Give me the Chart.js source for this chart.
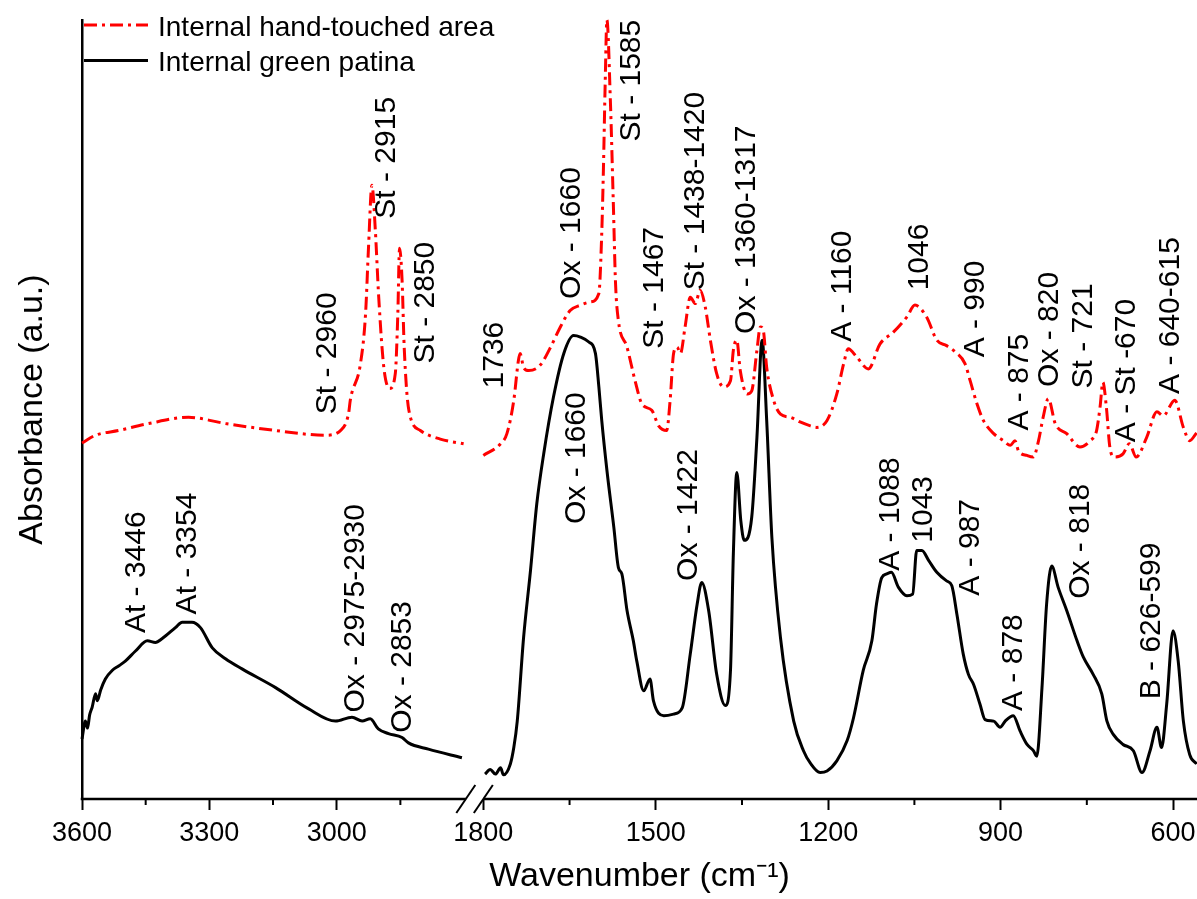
<!DOCTYPE html>
<html>
<head>
<meta charset="utf-8">
<title>FTIR spectra</title>
<script src="https://cdn.jsdelivr.net/npm/chart.js@4/dist/chart.umd.min.js"></script>
<style>
html, body { margin: 0; padding: 0; background: #fff; }
</style>
</head>
<body>
<canvas id="ftirChart" width="1197" height="899"></canvas>
<script>
// spectra: wavenumber (cm-1) and absorbance (a.u., 0-100)
const redLeftWn = [3600, 3568, 3514, 3443, 3349, 3262, 3144, 3027, 2991, 2972, 2968, 2944, 2932, 2925, 2917, 2909, 2901, 2889, 2875, 2862, 2856, 2852, 2846, 2841, 2830, 2803, 2756, 2701];
const redLeftAbs = [45.7, 46.7, 47.3, 48.2, 49.0, 48.2, 47.3, 46.7, 47.3, 49.5, 51.2, 55.9, 62.3, 70.9, 78.8, 73.0, 64.4, 55.4, 52.7, 54.6, 62.3, 70.7, 66.6, 58.0, 49.9, 47.3, 46.2, 45.6];

const redRightWn = [1800, 1770, 1759, 1747, 1739, 1736, 1730, 1721, 1701, 1683, 1666, 1649, 1631, 1614, 1599, 1594, 1591, 1588, 1585, 1579,
  1574, 1570, 1565, 1550, 1536, 1524, 1507, 1495, 1481, 1475, 1469, 1463, 1457, 1449, 1440, 1431, 1423, 1414, 1405, 1394,
  1382, 1370, 1365, 1359, 1353, 1341, 1333, 1324, 1318, 1313, 1307, 1295, 1283, 1266, 1249, 1231, 1220, 1202, 1185, 1173,
  1165, 1150, 1130, 1110, 1087, 1063, 1049, 1029, 1011, 994, 979, 962, 953, 941, 930, 912, 895, 883, 875, 869,
  854, 843, 834, 826, 817, 805, 785, 762, 744, 733, 727, 722, 716, 710, 702, 687, 676, 664, 646, 628,
  617, 597, 582, 571, 559];
const redRightAbs = [44.1, 45.6, 46.9, 51.2, 56.3, 57.2, 55.4, 55.0, 55.7, 58.0, 60.6, 62.7, 63.4, 63.8, 64.9, 72.6, 81.1, 91.9, 100, 89.7,
  76.9, 66.2, 61.4, 58.0, 53.7, 50.7, 49.9, 47.9, 47.3, 51.2, 57.2, 58.0, 57.2, 60.6, 64.4, 63.6, 65.3, 63.2, 58.9, 54.6,
  52.9, 53.7, 57.6, 58.9, 55.0, 52.0, 52.4, 57.6, 60.6, 60.2, 55.4, 51.2, 49.4, 49.0, 48.4, 47.9, 47.7, 48.6, 52.0, 55.9,
  57.8, 56.7, 55.2, 58.4, 59.9, 61.9, 63.4, 61.9, 58.9, 58.2, 57.4, 55.9, 53.7, 50.7, 48.6, 46.9, 46.0, 45.4, 46.0, 44.7,
  44.1, 43.9, 46.0, 49.0, 51.4, 48.2, 46.9, 45.2, 46.0, 47.3, 50.3, 53.5, 50.3, 45.2, 43.9, 44.3, 45.6, 43.9, 46.4, 49.7,
  49.2, 51.2, 47.7, 46.0, 47.0];

const blackLeftWn = [3600, 3592, 3587, 3582, 3576, 3568, 3564, 3556, 3545, 3529, 3513, 3498, 3474, 3446, 3427, 3411, 3380, 3364, 3341, 3321,
  3293, 3262, 3223, 3144, 3067, 3003, 2964, 2940, 2921, 2902, 2878, 2846, 2831, 2784, 2705];
const blackLeftAbs = [7.7, 10.0, 9.1, 10.8, 11.8, 13.5, 12.6, 14.0, 15.4, 16.5, 17.1, 17.7, 19.0, 20.3, 20.1, 20.6, 22.0, 22.7, 22.7, 22.0,
  19.4, 18.0, 16.7, 14.3, 11.6, 10.0, 10.5, 10.0, 10.3, 9.0, 8.4, 7.9, 7.2, 6.4, 5.3];

const blackRightWn = [1797, 1788, 1779, 1770, 1765, 1753, 1747, 1741, 1730, 1718, 1707, 1695, 1678, 1660, 1643, 1631, 1617, 1605, 1599, 1594,
  1585, 1573, 1565, 1559, 1550, 1539, 1533, 1521, 1510, 1504, 1486, 1469, 1454, 1440, 1428, 1420, 1408, 1394, 1379, 1370,
  1365, 1359, 1352, 1346, 1333, 1324, 1315, 1307, 1298, 1283, 1260, 1243, 1231, 1214, 1202, 1185, 1167, 1156, 1139, 1124,
  1116, 1107, 1098, 1090, 1078, 1063, 1053, 1046, 1037, 1025, 1011, 994, 985, 976, 965, 956, 947, 936, 927, 912,
  901, 892, 878, 866, 854, 843, 837, 828, 820, 811, 800, 785, 767, 756, 739, 724, 715, 704, 687, 669,
  654, 640, 628, 620, 611, 600, 591, 582, 571, 559];
const blackRightAbs = [3.2, 3.8, 3.2, 4.0, 3.1, 4.5, 6.6, 10.0, 20.7, 29.3, 37.9, 44.3, 51.6, 57.2, 59.5, 59.3, 58.7, 57.2, 52.9, 48.6,
  42.2, 34.9, 29.7, 28.9, 24.2, 20.3, 17.7, 13.9, 15.4, 12.6, 10.7, 10.9, 11.7, 18.6, 25.0, 27.8, 24.2, 16.0, 12.0, 16.5,
  31.5, 41.9, 35.7, 33.2, 36.2, 46.4, 58.9, 48.6, 33.6, 20.7, 10.0, 6.2, 4.6, 3.4, 3.6, 4.9, 7.5, 10.4, 16.5, 20.3,
  25.0, 28.4, 28.9, 29.1, 27.2, 26.1, 26.3, 31.9, 31.9, 30.6, 29.1, 28.0, 27.4, 23.7, 18.6, 16.0, 14.7, 12.2, 10.2, 10.0,
  9.2, 10.0, 10.7, 8.7, 7.0, 6.2, 5.5, 14.3, 25.0, 29.9, 27.2, 24.2, 20.3, 18.2, 16.0, 13.5, 10.0, 8.3, 7.0, 6.2,
  3.4, 6.2, 9.2, 6.6, 12.2, 21.6, 17.7, 10.0, 5.7, 4.5];

const majorTicks = [3600, 3300, 3000, 1800, 1500, 1200, 900, 600];
const minorTicks = [3450, 3150, 2850, 1650, 1350, 1050, 750];

// band assignments: text, wavenumber, absorbance where the text starts
const peakLabels = [
  ['At - 3446', 3471, 21.3],
  ['At - 3354', 3352, 23.7],
  ['Ox - 2975-2930', 2954, 11.1],
  ['Ox - 2853', 2845, 8.5],
  ['St - 2960', 3021, 49.4],
  ['St - 2915', 2881, 74.5],
  ['St - 2850', 2791, 55.9],
  ['1736', 1781, 52.7],
  ['Ox - 1660', 1646, 64.2],
  ['St - 1585', 1541, 84.4],
  ['St - 1467', 1501, 57.8],
  ['St - 1438-1420', 1431, 65.3],
  ['Ox - 1360-1317', 1341, 59.7],
  ['Ox - 1660', 1637, 35.3],
  ['Ox - 1422', 1443, 28.0],
  ['A - 1088', 1091, 29.3],
  ['1043', 1033, 32.9],
  ['A - 987', 952, 26.1],
  ['A - 878', 877, 11.3],
  ['Ox - 818', 761, 25.7],
  ['B - 626-599', 637, 12.8],
  ['A - 1160', 1174, 58.7],
  ['1046', 1041, 65.3],
  ['A - 990', 943, 56.7],
  ['A - 875', 867, 47.3],
  ['Ox - 820', 815, 52.9],
  ['St - 721', 755, 52.7],
  ['A - St -670', 680, 45.8],
  ['A - 640-615', 604, 52.0]
];

// broken x axis: 3600-2690 is squeezed, 1800-559 at full scale
const LEFT_START = 3600;
const LEFT_RATIO = 0.7386;
const RIGHT_START = 1800;
const RIGHT_OFFSET = 698.3;
const BREAK_AT = 667.8;
const X_MAX = 1940;

function toAxis(wn) {
    return wn > 2000 ? (LEFT_START - wn) * LEFT_RATIO : RIGHT_OFFSET + (RIGHT_START - wn);
}

function fromAxis(u) {
    return u < (BREAK_AT + RIGHT_OFFSET) / 2 ? LEFT_START - u / LEFT_RATIO : RIGHT_START - (u - RIGHT_OFFSET);
}

function pairs(wn, abs) {
    return wn.map((w, i) => ({ x: toAxis(w), y: abs[i] }));
}

const FONT = '"Liberation Sans", Arial, Helvetica, sans-serif';
Chart.defaults.font.family = FONT;
Chart.defaults.color = '#000';

const RED = '#ff0000';
const redStyle = { borderColor: RED, borderWidth: 3, borderDash: [13, 5, 3, 5] };
const blackStyle = { borderColor: '#000000', borderWidth: 3 };

const brokenAxis = {
    id: 'brokenAxis',
    afterDraw(chart) {
        const { ctx, chartArea, scales: { x } } = chart;
        const y0 = chartArea.bottom;
        const xb1 = x.getPixelForValue(BREAK_AT);
        const xb2 = x.getPixelForValue(RIGHT_OFFSET);
        ctx.save();
        ctx.strokeStyle = '#000';
        ctx.lineWidth = 2.5;
        ctx.beginPath();
        ctx.moveTo(chartArea.left - 1.25, y0);
        ctx.lineTo(xb1, y0);
        ctx.moveTo(xb2, y0);
        ctx.lineTo(chartArea.right, y0);
        ctx.stroke();

        // the two slashes of the break
        ctx.lineWidth = 2;
        [xb1, xb2].forEach(cx => {
            ctx.beginPath();
            ctx.moveTo(cx - 9.5, y0 + 14);
            ctx.lineTo(cx + 9.5, y0 - 14);
            ctx.stroke();
        });

        minorTicks.forEach(w => {
            const px = x.getPixelForValue(toAxis(w));
            ctx.beginPath();
            ctx.moveTo(px, y0);
            ctx.lineTo(px, y0 + 6);
            ctx.stroke();
        });
        ctx.restore();
    }
};

const peakText = {
    id: 'peakText',
    afterDatasetsDraw(chart) {
        const { ctx, scales: { x, y } } = chart;
        ctx.save();
        ctx.font = '30px ' + FONT;
        ctx.fillStyle = '#000';
        ctx.textAlign = 'left';
        ctx.textBaseline = 'middle';
        peakLabels.forEach(([txt, wn, ab]) => {
            ctx.save();
            ctx.translate(x.getPixelForValue(toAxis(wn)), y.getPixelForValue(ab));
            ctx.rotate(-Math.PI / 2);
            ctx.fillText(txt, 0, 0);
            ctx.restore();
        });
        ctx.restore();
    }
};

const lineLegend = {
    id: 'lineLegend',
    afterDraw(chart) {
        const { ctx } = chart;
        const items = [];
        chart.data.datasets.forEach(ds => {
            if (!items.find(it => it.label === ds.label)) items.push(ds);
        });
        ctx.save();
        ctx.font = '28px ' + FONT;
        ctx.textBaseline = 'alphabetic';
        items.forEach((ds, i) => {
            const yy = 25 + i * 35.5;
            ctx.strokeStyle = ds.borderColor;
            ctx.lineWidth = ds.borderWidth;
            ctx.setLineDash(ds.borderDash || []);
            ctx.beginPath();
            ctx.moveTo(84, yy);
            ctx.lineTo(148, yy);
            ctx.stroke();
            ctx.setLineDash([]);
            ctx.fillStyle = '#000';
            ctx.fillText(ds.label, 158, yy + 10.7);
        });
        ctx.restore();
    }
};

const ctxFtir = document.getElementById('ftirChart').getContext('2d');
new Chart(ctxFtir, {
    type: 'line',
    data: {
        datasets: [
            { label: 'Internal hand-touched area', data: pairs(redLeftWn, redLeftAbs), ...redStyle },
            { label: 'Internal hand-touched area', data: pairs(redRightWn, redRightAbs), ...redStyle },
            { label: 'Internal green patina', data: pairs(blackLeftWn, blackLeftAbs), ...blackStyle },
            { label: 'Internal green patina', data: pairs(blackRightWn, blackRightAbs), ...blackStyle }
        ]
    },
    options: {
        responsive: false,
        animation: false,
        layout: { padding: { top: 20, left: 0, right: 0, bottom: 0 } },
        elements: {
            point: { radius: 0, hoverRadius: 0 },
            line: { cubicInterpolationMode: 'monotone', fill: false }
        },
        datasets: { line: { clip: 6 } },
        plugins: {
            legend: { display: false },
            tooltip: { enabled: false }
        },
        scales: {
            x: {
                type: 'linear',
                min: 0,
                max: X_MAX,
                afterBuildTicks: scale => {
                    scale.ticks = majorTicks.map(w => ({ value: toAxis(w) }));
                },
                afterFit: scale => {
                    scale.height = 100;
                    scale.paddingLeft = 0;
                    scale.paddingRight = 0;
                },
                ticks: {
                    autoSkip: false,
                    maxRotation: 0,
                    padding: 7,
                    font: { size: 27 },
                    color: '#000',
                    callback: v => String(Math.round(fromAxis(v)))
                },
                grid: {
                    display: true,
                    drawOnChartArea: false,
                    drawTicks: true,
                    tickLength: 11,
                    tickWidth: 2,
                    tickColor: '#000'
                },
                border: { display: false },
                title: {
                    display: true,
                    text: 'Wavenumber (cm\u207B\u00B9)',
                    font: { size: 34 },
                    color: '#000',
                    padding: { top: 0, bottom: 2 }
                }
            },
            y: {
                min: 0,
                max: 100,
                afterFit: scale => { scale.width = 82; },
                ticks: { display: false },
                grid: { display: false },
                border: { display: true, color: '#000', width: 2.5 },
                title: {
                    display: true,
                    text: 'Absorbance (a.u.)',
                    font: { size: 34 },
                    color: '#000',
                    padding: { top: 12, bottom: 0 }
                }
            }
        }
    },
    plugins: [brokenAxis, peakText, lineLegend]
});
</script>
</body>
</html>
